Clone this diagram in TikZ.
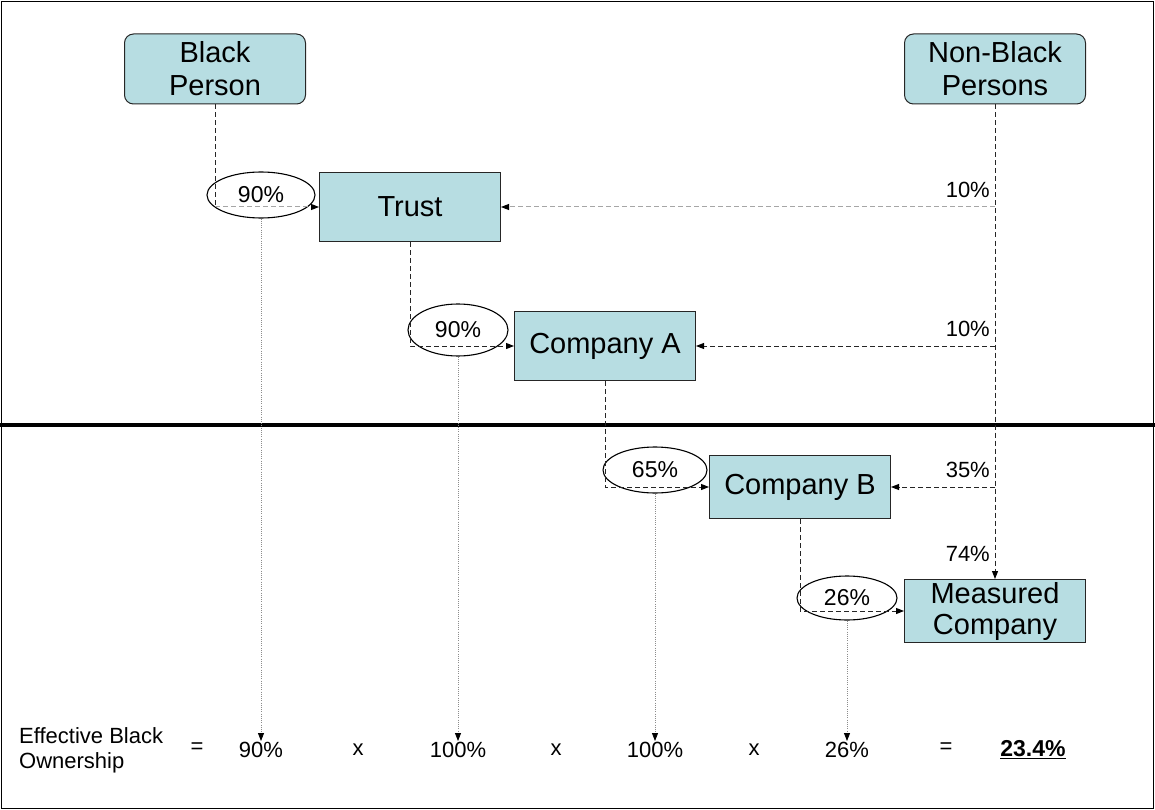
\documentclass[tikz,border=0pt]{standalone}
\usepackage{fontspec}
\setmainfont{Liberation Sans}
\usetikzlibrary{shapes.geometric, arrows.meta, calc}
\definecolor{boxcyan}{RGB}{183,221,226}

\begin{document}
\begin{tikzpicture}[
    x=1pt, y=-1pt,
    >={Triangle[length=8pt,width=6pt,color=black]},
    party/.style={draw=black!85, line width=1pt, fill=boxcyan, rounded corners=9pt, minimum width=181pt,
                  minimum height=70pt, inner sep=2pt, align=center, font=\fontsize{29}{33}\selectfont},
    entity/.style={draw=black!85, line width=1pt, fill=boxcyan, minimum width=181pt, minimum height=69pt,
                   inner sep=1pt, align=center, font=\fontsize{29}{31}\selectfont},
    share/.style={draw, ellipse, line width=1.1pt, inner sep=0pt, font=\fontsize{23}{25}\selectfont},
    pct/.style={inner sep=1pt, font=\fontsize{22}{25}\selectfont},
    term/.style={inner sep=1pt, font=\fontsize{22}{25}\selectfont},
    link/.style={line width=1pt, black!85, dash pattern=on 5pt off 3pt},
    lightlink/.style={line width=1pt, gray!70, dash pattern=on 5pt off 3pt},
    drop/.style={line width=0.8pt, gray!90, dash pattern=on 1pt off 1.2pt}
  ]
  \useasboundingbox (0,0) rectangle (1155,810);

  % frame and split line
  \draw[line width=1.5pt] (1.5,1.5) rectangle (1153.5,808.5);
  \draw[line width=4pt] (0,425) -- (1155,425);

  % owners and entities
  \node[party] (bp) at (215,69) {Black\\Person};
  \node[party] (nbp) at (995,69) {Non-Black\\Persons};
  \node[entity] (trust) at (410,207) {Trust};
  \node[entity] (compA) at (605,346) {Company A};
  \node[entity, minimum height=63pt] (compB) at (800,487) {Company B};
  \node[entity, minimum height=63pt] (measured) at (995,611) {Measured\\Company};

  % black shares
  \node[share, minimum width=108pt, minimum height=46pt] (s1) at (261,195) {90\%};
  \node[share, minimum width=100pt, minimum height=52pt] (s2) at (458,330) {90\%};
  \node[share, minimum width=104pt, minimum height=46pt] (s3) at (655,470) {65\%};
  \node[share, minimum width=100pt, minimum height=44pt] (s4) at (847,598) {26\%};

  % bottom calculation
  \node[term, align=left, anchor=west] (eff) at (18,750) {Effective Black\\Ownership};
  \node[term] (eq1) at (197,748) {=};
  \node[term] (v1) at (261,750) {90\%};
  \node[term] (x1) at (358,750) {x};
  \node[term] (v2) at (458,750) {100\%};
  \node[term] (x2) at (556,750) {x};
  \node[term] (v3) at (655,750) {100\%};
  \node[term] (x3) at (754,750) {x};
  \node[term] (v4) at (847,750) {26\%};
  \node[term] (eq2) at (946,748) {=};
  \node[term, font=\fontsize{23}{25}\selectfont\bfseries] (res) at (1033,750) {\underline{23.4\%}};

  % black ownership chain
  \draw[link] (bp.south) -- (bp.south |- trust.west);
  \draw[lightlink, ->] (bp.south |- trust.west) -- (trust.west);
  \foreach \a/\b in {trust/compA, compA/compB, compB/measured}
    \draw[link, ->] (\a.south) |- (\b.west);

  % non-black ownership
  \draw[link, ->] (nbp.south) -- (measured.north);
  \draw[lightlink, ->] (nbp.south |- trust.east) -- (trust.east);
  \draw[link, ->] (nbp.south |- compA.east) -- (compA.east);
  \draw[link, ->] (nbp.south |- compB.east) -- (compB.east);

  \node[pct, anchor=south east] (p1) at ($(nbp.south |- trust.east)+(-4,-8)$) {10\%};
  \node[pct, anchor=south east] (p2) at ($(nbp.south |- compA.east)+(-4,-8)$) {10\%};
  \node[pct, anchor=south east] (p3) at ($(nbp.south |- compB.east)+(-4,-8)$) {35\%};
  \node[pct, anchor=south east] (p4) at ($(measured.north)+(-4,-16)$) {74\%};

  % carry shares down to the sum
  \foreach \s/\v in {s1/v1, s2/v2, s3/v3, s4/v4}
    \draw[drop, ->] (\s.south) -- (\v.north);
\end{tikzpicture}
\end{document}
